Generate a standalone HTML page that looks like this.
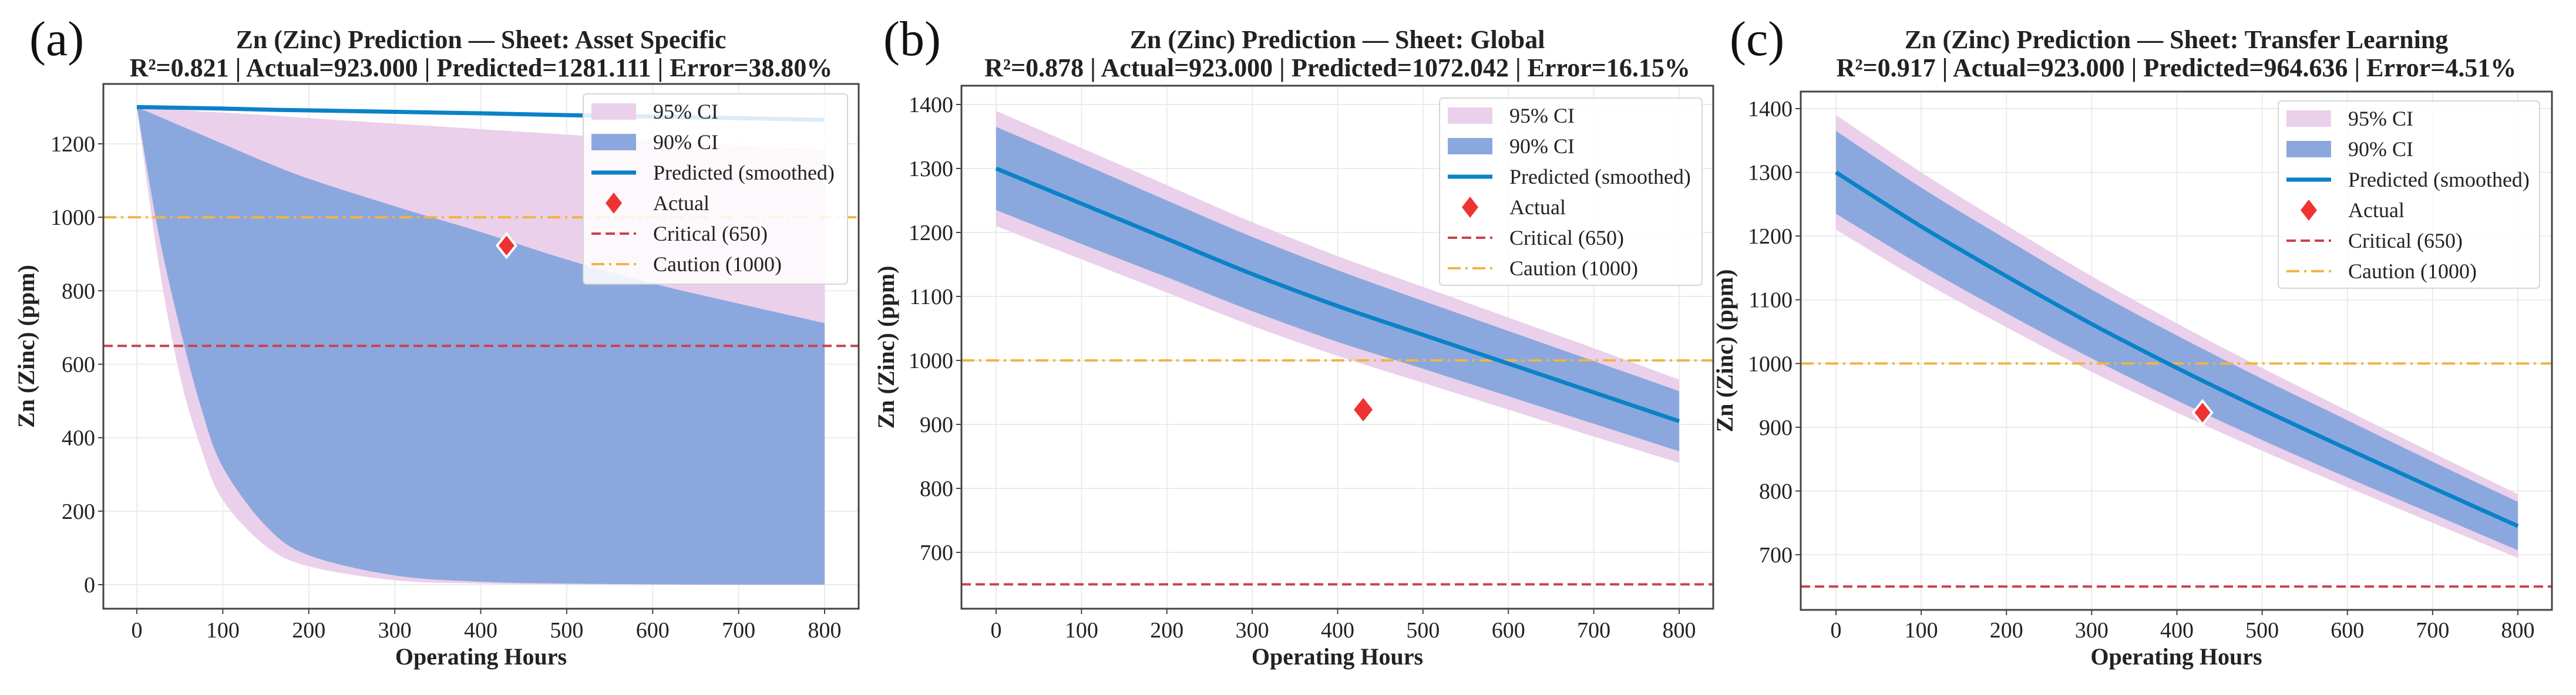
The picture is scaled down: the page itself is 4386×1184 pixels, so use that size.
<!DOCTYPE html>
<html><head><meta charset="utf-8">
<style>
html,body{margin:0;padding:0;background:#fff;}
svg text{font-family:"Liberation Serif",serif;}
</style></head>
<body>
<svg id="fig" width="4386" height="1179" viewBox="0 0 4386 1179" xmlns="http://www.w3.org/2000/svg">
<rect width="4386" height="1179" fill="#fff"/>
</svg>
<script>
// ---- data ----
const hoursA = [0,25,50,75,100,150,200,300,400,500,600,700,800];
const predA  = [1300,1299,1298,1297,1296,1293,1291,1287,1283,1278,1274,1270,1265];
const up90A  = [1300,1275,1250,1225,1200,1150,1105,1030,960,885,820,765,712];
const lo90A  = [1300,960,700,480,320,160,80,25,8,3,1,0,0];
const up95A  = [1300,1296,1292,1288,1285,1278,1270,1255,1240,1225,1210,1195,1185];
const lo95A  = [1300,880,570,370,230,105,50,12,3,1,0,0,0];

const hoursB = [0,100,200,300,400,500,600,700,800];
const predB  = [1300,1245,1190,1135,1085,1040,995,950,905];
const up90B  = [1365,1308,1250,1193,1141,1093,1046,999,952];
const lo90B  = [1235,1182,1130,1077,1029,987,944,901,858];
const up95B  = [1390,1332,1274,1216,1163,1115,1067,1019,970];
const lo95B  = [1210,1158,1106,1054,1007,965,923,881,840];

const hoursC = [0,100,200,300,400,500,600,700,800];
const predC  = [1300,1215,1137,1062,993,928,866,805,745];
const up90C  = [1365,1276,1195,1116,1044,976,911,846,783];
const lo90C  = [1235,1154,1079,1008,942,880,821,764,707];
const up95C  = [1390,1300,1217,1137,1063,993,926,860,795];
const lo95C  = [1210,1130,1057,987,923,863,806,750,695];

const actualHour = [430];
const actualVal = [923];
const criticalLevel = [650];
const cautionLevel = [1000];
const xTicks = [0,100,200,300,400,500,600,700,800];
const yTicksA = [0,200,400,600,800,1000,1200];
const yTicksBC = [700,800,900,1000,1100,1200,1300,1400];

const NS="http://www.w3.org/2000/svg";
const svg=document.getElementById('fig');
function mk(tag,attrs,parent){const e=document.createElementNS(NS,tag);for(const k in attrs)e.setAttribute(k,attrs[k]);(parent||svg).appendChild(e);return e;}
// smooth path through points (monotone-ish Catmull-Rom)
function smooth(pts,start){
  let d=start?('M'+pts[0][0]+','+pts[0][1]):(' L'+pts[0][0]+','+pts[0][1]);
  for(let i=0;i<pts.length-1;i++){
    const p0=pts[Math.max(0,i-1)],p1=pts[i],p2=pts[i+1],p3=pts[Math.min(pts.length-1,i+2)];
    const c1=[p1[0]+(p2[0]-p0[0])/6,p1[1]+(p2[1]-p0[1])/6];
    const c2=[p2[0]-(p3[0]-p1[0])/6,p2[1]-(p3[1]-p1[1])/6];
    d+=` C${c1[0]},${c1[1]} ${c2[0]},${c2[1]} ${p2[0]},${p2[1]}`;
  }
  return d;
}

function panel(cfg){
  const g=mk('g',{});
  
  
  const L=cfg.left,R=cfg.right,T=cfg.top,B=cfg.bottom;
  const sx=v=>cfg.x0px+(v-0)/800*(cfg.x800px-cfg.x0px);
  const sy=v=>cfg.yApx+(v-cfg.yA)/(cfg.yB-cfg.yA)*(cfg.yBpx-cfg.yApx);
  const clipId='clip'+cfg.id;
  const cp=mk('clipPath',{id:clipId},g);mk('rect',{x:L,y:T,width:R-L,height:B-T},cp);
  xTicks.forEach(t=>{const l=mk('line',{x1:sx(t),x2:sx(t),y1:T,y2:B,stroke:'#ebebeb','stroke-width':2},g);
    });
  cfg.yTicks.forEach(t=>{const l=mk('line',{x1:L,x2:R,y1:sy(t),y2:sy(t),stroke:'#ebebeb','stroke-width':2},g);
    });
  const band=(up,lo,fill,name)=>{
    const upPts=cfg.hours.map((h,i)=>[sx(h),sy(up[i])]);
    const loPts=cfg.hours.map((h,i)=>[sx(h),sy(lo[i])]).reverse();
    const d=smooth(upPts,true)+smooth(loPts,false)+'Z';
    const p=mk('path',{d:d,fill:fill,'clip-path':'url(#'+clipId+')'},g);
    
  };
  band(cfg.up95,cfg.lo95,'#ead0ea','ci-95-band');
  band(cfg.up90,cfg.lo90,'#8ba8de','ci-90-band');
  const crit=mk('line',{x1:L,x2:R,y1:sy(criticalLevel[0]),y2:sy(criticalLevel[0]),stroke:'#c9424c','stroke-width':4,'stroke-dasharray':'16,8'},g);
  
  const cau=mk('line',{x1:L,x2:R,y1:sy(cautionLevel[0]),y2:sy(cautionLevel[0]),stroke:'#f2b441','stroke-width':4,'stroke-dasharray':'22,8,4,8'},g);
  
  const pl=mk('path',{d:smooth(cfg.hours.map((h,i)=>[sx(h),sy(cfg.pred[i])]),true),fill:'none',stroke:'#0a82c8','stroke-width':7,'clip-path':'url(#'+clipId+')'},g);
  
  const ax=sx(actualHour[0]),ay=sy(actualVal[0]),r=20;
  const dm=mk('polygon',{points:`${ax},${ay-r} ${ax+r*0.8},${ay} ${ax},${ay+r} ${ax-r*0.8},${ay}`,fill:'#ee3333',stroke:cfg.edge?'#fff':'none','stroke-width':4},g);
  
  const fr=mk('rect',{x:L,y:T,width:R-L,height:B-T,fill:'none',stroke:'#444','stroke-width':3},g);
  
  xTicks.forEach(t=>{mk('line',{x1:sx(t),x2:sx(t),y1:B,y2:B+9,stroke:'#444','stroke-width':2},g);
    const tx=mk('text',{x:sx(t),y:1086,'text-anchor':'middle','font-size':38,fill:'#222'},g);tx.textContent=t;
    });
  cfg.yTicks.forEach(t=>{mk('line',{x1:L-9,x2:L,y1:sy(t),y2:sy(t),stroke:'#444','stroke-width':2},g);
    const tx=mk('text',{x:L-14,y:sy(t)+13,'text-anchor':'end','font-size':38,fill:'#222'},g);tx.textContent=t;
    });
  const xt=mk('text',{x:(L+R)/2,y:1132,'text-anchor':'middle','font-size':40,'font-weight':'bold',fill:'#222'},g);xt.textContent='Operating Hours';
  
  const cy=(T+B)/2;
  const yt=mk('text',{x:cfg.ylabX,y:cy,'text-anchor':'middle','font-size':40,'font-weight':'bold',fill:'#222',transform:`rotate(-90 ${cfg.ylabX} ${cy})`},g);yt.textContent='Zn (Zinc) (ppm)';
  
  const t1=mk('text',{x:(L+R)/2,y:82,'text-anchor':'middle','font-size':44,'font-weight':'bold',fill:'#222'},g);t1.textContent=cfg.title1;
  
  const t2=mk('text',{x:(L+R)/2,y:130,'text-anchor':'middle','font-size':44,'font-weight':'bold',fill:'#222'},g);t2.textContent=cfg.title2;
  
  const pn=mk('text',{x:cfg.labX,y:94,'font-size':84,fill:'#111'},g);pn.textContent=cfg.label;
  
  const lg=mk('g',{},g);
  const lb=cfg.leg;
  mk('rect',{x:lb.x,y:lb.y,width:lb.w,height:lb.h,rx:6,fill:'rgba(255,255,255,0.85)',stroke:'#d6d6d6','stroke-width':2},lg);
  const names=['95% CI','90% CI','Predicted (smoothed)','Actual','Critical (650)','Caution (1000)'];
  names.forEach((n,i)=>{
    const ey=lb.y+30+i*52,px=lb.x+14;
    const e=mk('g',{},lg);
    if(i==0)mk('rect',{x:px,y:ey-14,width:76,height:28,fill:'#ead0ea'},e);
    if(i==1)mk('rect',{x:px,y:ey-14,width:76,height:28,fill:'#8ba8de'},e);
    if(i==2)mk('line',{x1:px,x2:px+76,y1:ey,y2:ey,stroke:'#0a82c8','stroke-width':7},e);
    if(i==3)mk('polygon',{points:`${px+38},${ey-18} ${px+52},${ey} ${px+38},${ey+18} ${px+24},${ey}`,fill:'#ee3333'},e);
    if(i==4)mk('line',{x1:px,x2:px+76,y1:ey,y2:ey,stroke:'#c9424c','stroke-width':4,'stroke-dasharray':'16,8'},e);
    if(i==5)mk('line',{x1:px,x2:px+76,y1:ey,y2:ey,stroke:'#f2b441','stroke-width':4,'stroke-dasharray':'22,8,4,8'},e);
    const t=mk('text',{x:lb.x+119,y:ey+12,'font-size':36,fill:'#222'},e);t.textContent=n;
  });
}
panel({id:'a',left:176,right:1462,top:143,bottom:1037,x0px:233,x800px:1404,yA:0,yApx:996,yB:1200,yBpx:245,
  yTicks:yTicksA,hours:hoursA,pred:predA,up90:up90A,lo90:lo90A,up95:up95A,lo95:lo95A,edge:true,ylabX:58,labX:50,label:'(a)',
  title1:'Zn (Zinc) Prediction — Sheet: Asset Specific',title2:'R²=0.821 | Actual=923.000 | Predicted=1281.111 | Error=38.80%',
  leg:{x:993,y:160,w:450,h:324}});
panel({id:'b',left:1637,right:2917,top:146,bottom:1037,x0px:1696,x800px:2859,yA:700,yApx:941,yB:1400,yBpx:178,
  yTicks:yTicksBC,hours:hoursB,pred:predB,up90:up90B,lo90:lo90B,up95:up95B,lo95:lo95B,edge:false,ylabX:1522,labX:1504,label:'(b)',
  title1:'Zn (Zinc) Prediction — Sheet: Global',title2:'R²=0.878 | Actual=923.000 | Predicted=1072.042 | Error=16.15%',
  leg:{x:2451,y:167,w:447,h:319}});
panel({id:'c',left:3066,right:4345,top:156,bottom:1039,x0px:3126,x800px:4287,yA:700,yApx:945,yB:1400,yBpx:185,
  yTicks:yTicksBC,hours:hoursC,pred:predC,up90:up90C,lo90:lo90C,up95:up95C,lo95:lo95C,edge:true,ylabX:2950,labX:2945,label:'(c)',
  title1:'Zn (Zinc) Prediction — Sheet: Transfer Learning',title2:'R²=0.917 | Actual=923.000 | Predicted=964.636 | Error=4.51%',
  leg:{x:3879,y:172,w:445,h:319}});
</script>
</body></html>
